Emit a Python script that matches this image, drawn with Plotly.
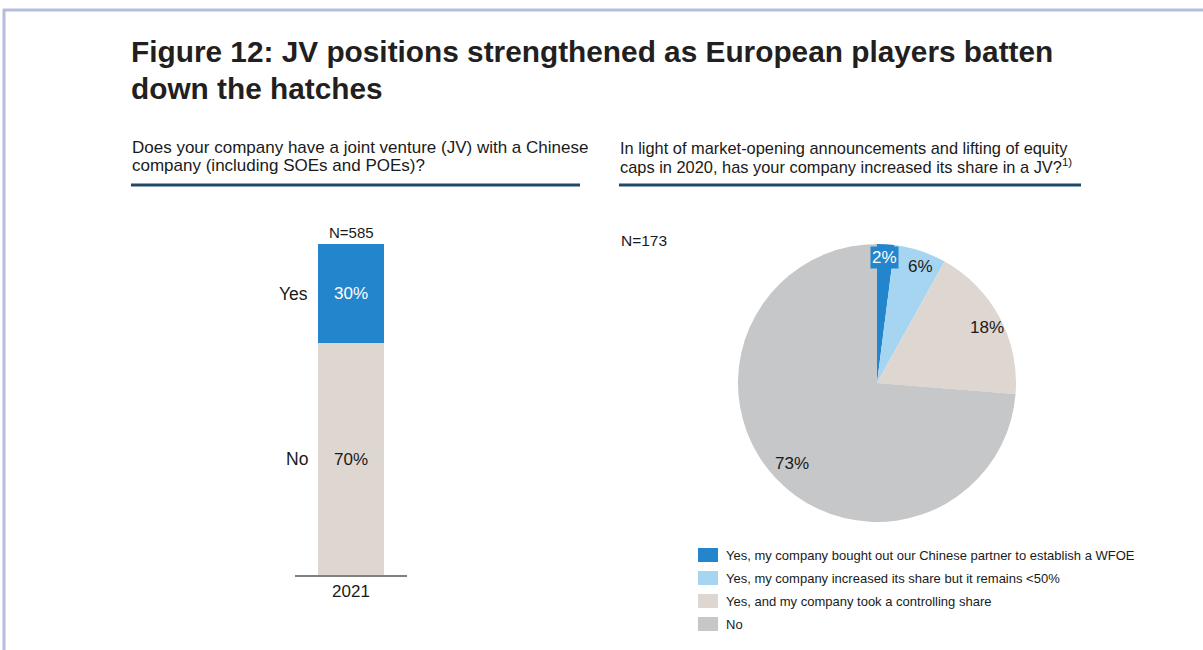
import plotly.graph_objects as go

W, H = 1203, 650

# --- data ---------------------------------------------------------------
jv_years = ["2021"]
jv_answers = ["Yes", "No"]
jv_shares = [30, 70]
jv_n = 585

share_labels = [
    "Yes, my company bought out our Chinese partner to establish a WFOE",
    "Yes, my company increased its share but it remains <50%",
    "Yes, and my company took a controlling share",
    "No",
]
share_values = [2, 6, 18, 73]
share_n = 173

# --- styling ------------------------------------------------------------
FONT = "Liberation Sans, Arial, sans-serif"
TXT = "#1a1a1a"
bar_colors = {"Yes": "#2385cb", "No": "#ded6d0"}
bar_text_colors = {"Yes": "#ffffff", "No": TXT}
pie_colors = ["#2385cb", "#a6d5f2", "#ded6d0", "#c6c7c9"]


def px(x):
    return x / W


def py(y):
    return 1 - y / H


fig = go.Figure()

# stacked bar (left panel): "No" at the bottom, "Yes" stacked on top
stack = list(zip(jv_answers, jv_shares))[::-1]
for ans, val in stack:
    fig.add_trace(go.Bar(
        x=jv_years, y=[val], name=ans,
        marker=dict(color=bar_colors[ans], line=dict(width=0)),
        width=0.59,
        text=[f"{val}%"], textposition="inside", insidetextanchor="middle",
        textfont=dict(family=FONT, size=17, color=bar_text_colors[ans]),
        showlegend=False, hoverinfo="skip",
    ))

# pie (right panel)
fig.add_trace(go.Pie(
    labels=share_labels, values=share_values,
    sort=False, direction="clockwise", rotation=0,
    marker=dict(colors=pie_colors, line=dict(width=0)),
    textinfo="none", showlegend=False, hoverinfo="skip",
    domain=dict(x=[px(738), px(1016)], y=[py(522), py(244)]),
))

fig.update_layout(
    width=W, height=H,
    margin=dict(l=0, r=0, t=0, b=0),
    paper_bgcolor="white", plot_bgcolor="white",
    barmode="stack", bargap=0,
    font=dict(family=FONT, color=TXT),
    xaxis=dict(domain=[px(295), px(407)], range=[-0.5, 0.5],
               showline=True, linecolor="#808080", linewidth=2,
               showgrid=False, zeroline=False, ticks="",
               tickfont=dict(size=17, color=TXT, family=FONT)),
    yaxis=dict(domain=[py(575), py(244)], range=[0, 100],
               visible=False, showgrid=False),
)

ann = []
shapes = []

# outer frame lines (top and left)
shapes.append(dict(type="line", xref="paper", yref="paper",
                   x0=px(3), x1=1.0, y0=py(10), y1=py(10),
                   line=dict(color="#b4bedc", width=3)))
shapes.append(dict(type="line", xref="paper", yref="paper",
                   x0=px(4), x1=px(4), y0=py(9), y1=0,
                   line=dict(color="#b4bedc", width=3)))

# title (one annotation per line for tight spacing)
title_lines = ["Figure 12: JV positions strengthened as European players batten",
               "down the hatches"]
for i, line in enumerate(title_lines):
    ann.append(dict(text=f"<b>{line}</b>", xref="paper", yref="paper",
                    x=px(129), y=py(51 + 37 * i),
                    xanchor="left", yanchor="middle", showarrow=False,
                    font=dict(family=FONT, size=29.8, color="#231f20")))

# panel questions with rules beneath
q_left = ["Does your company have a joint venture (JV) with a Chinese",
          "company (including SOEs and POEs)?"]
q_right = ["In light of market-opening announcements and lifting of equity",
           "caps in 2020, has your company increased its share in a JV?<sup>1)</sup>"]
for x0, lines, size in [(130, q_left, 17), (618, q_right, 16.4)]:
    for i, line in enumerate(lines):
        ann.append(dict(text=line, xref="paper", yref="paper",
                        x=px(x0), y=py(148 + 18 * i),
                        xanchor="left", yanchor="middle", showarrow=False,
                        font=dict(family=FONT, size=size, color=TXT)))
for x0, x1 in [(131, 580), (619, 1081)]:
    shapes.append(dict(type="line", xref="paper", yref="paper",
                       x0=px(x0), x1=px(x1), y0=py(185), y1=py(185),
                       line=dict(color="#1d4a66", width=3)))

# sample sizes
ann.append(dict(text=f"N={jv_n}", xref="x", yref="paper", x=0, y=py(233),
                xanchor="center", yanchor="middle", showarrow=False,
                font=dict(family=FONT, size=15, color=TXT)))
ann.append(dict(text=f"N={share_n}", xref="paper", yref="paper", x=px(619), y=py(241),
                xanchor="left", yanchor="middle", showarrow=False,
                font=dict(family=FONT, size=15.5, color=TXT)))

# segment names to the left of the bar
base = 0
for ans, val in stack:
    ann.append(dict(text=ans, xref="paper", yref="y", x=px(310), y=base + val / 2,
                    xanchor="right", yanchor="middle", showarrow=False,
                    font=dict(family=FONT, size=17.5, color=TXT)))
    base += val

# pie value labels
pie_label_pos = [(884, 257), (920, 266), (987, 327), (792, 463)]
for i, (val, (lx, ly)) in enumerate(zip(share_values, pie_label_pos)):
    first = i == 0
    ann.append(dict(text=f"{val}%", xref="paper", yref="paper", x=px(lx), y=py(ly),
                    xanchor="center", yanchor="middle", showarrow=False,
                    bgcolor=pie_colors[0] if first else None, borderpad=1,
                    font=dict(family=FONT, size=17,
                              color="#ffffff" if first else TXT)))

# legend for the pie
for i, (lab, col) in enumerate(zip(share_labels, pie_colors)):
    cy = 555 + i * 23
    shapes.append(dict(type="rect", xref="paper", yref="paper",
                       x0=px(698), x1=px(718), y0=py(cy + 7), y1=py(cy - 7),
                       fillcolor=col, line=dict(width=0)))
    ann.append(dict(text=lab, xref="paper", yref="paper", x=px(724), y=py(cy),
                    xanchor="left", yanchor="middle", showarrow=False,
                    font=dict(family=FONT, size=13, color=TXT)))

fig.update_layout(annotations=ann, shapes=shapes)
fig.write_html("out.html")
